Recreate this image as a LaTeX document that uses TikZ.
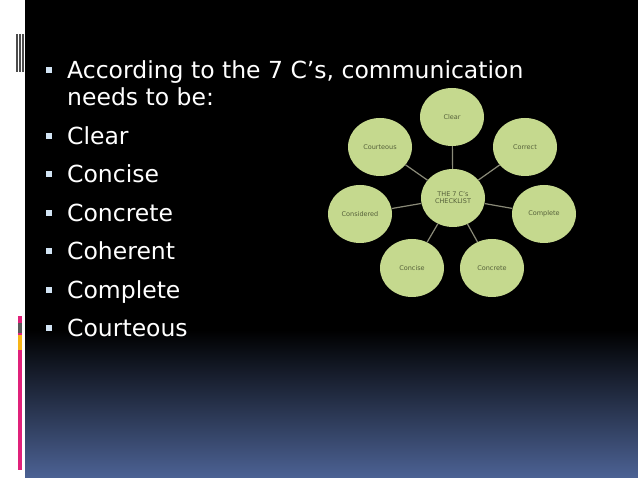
\documentclass[tikz,border=0pt]{standalone}
\usepackage{fontspec}
\setmainfont{DejaVu Sans}
\usetikzlibrary{positioning, shapes.geometric}
\definecolor{leaf}{HTML}{C5D98E}
\definecolor{leaftext}{HTML}{55603A}
\definecolor{spoke}{HTML}{8A8A78}
\definecolor{deepblue}{HTML}{4C6294}
\definecolor{bulletblue}{HTML}{D2E4F4}
\definecolor{barpink}{HTML}{E0217A}
\definecolor{barorange}{HTML}{F7B418}
\begin{document}
\begin{tikzpicture}[x=1pt, y=-1pt,
  leafnode/.style={ellipse, fill=leaf, minimum width=64pt, minimum height=58pt, inner sep=0pt, font=\fontsize{6.5}{7}\selectfont, text=leaftext, align=center},
  spokeline/.style={draw=spoke, line width=1.2pt},
  item/.style={anchor=base west, inner sep=0pt, text=white, font=\fontsize{23.5}{28}\selectfont},
  bulletbox/.style={fill=bulletblue, minimum size=6pt, inner sep=0pt}
]
\useasboundingbox (0,0) rectangle (638,478);

% Background
\fill[white] (0,0) rectangle (25,478);
\fill[black] (25,0) rectangle (638,330);
\shade[top color=black, bottom color=deepblue] (25,330) rectangle (638,478);

% Side marks
\foreach \x in {16,19,22} \fill[black!70] (\x,34) rectangle ++(1.5,38);
\fill[barpink] (18,316) rectangle (22,470);
\fill[gray!70!black] (18,323) rectangle (22,333);
\fill[barorange] (18,335) rectangle (22,350);

% Bullets
\node[item] (intro) at (67,79) {According to the 7 C’s, communication};
\node[item] (intro2) at (67,106) {needs to be:};
\foreach \t [count=\i] in {Clear,Concise,Concrete,Coherent,Complete,Courteous}
  \node[item] (b\i) at (67,106+38.5*\i) {\t};
\foreach \y in {70,136,174,213,251,290,328}
  \node[bulletbox] at (49,\y) {};

% Checklist
\node[leafnode] (hub) at (453,198) {THE 7 C’s\\CHECKLIST};
\node[leafnode] (clear) at (452,117) {Clear};
\node[leafnode] (correct) at (525,147) {Correct};
\node[leafnode] (complete) at (544,214) {Complete};
\node[leafnode] (concrete) at (492,268) {Concrete};
\node[leafnode] (concise) at (412,268) {Concise};
\node[leafnode] (considered) at (360,214) {Considered};
\node[leafnode] (courteous) at (380,147) {Courteous};
\foreach \n in {clear,correct,complete,concrete,concise,considered,courteous}
  \draw[spokeline] (hub) -- (\n);
\end{tikzpicture}
\end{document}
